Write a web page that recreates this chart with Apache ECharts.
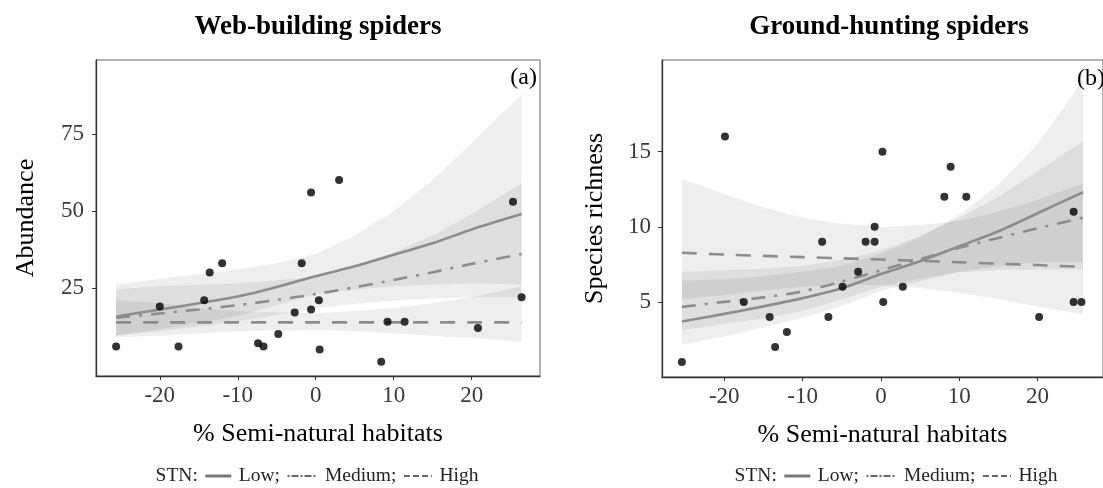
<!DOCTYPE html>
<html>
<head>
<meta charset="utf-8">
<script src="https://cdn.jsdelivr.net/npm/echarts@6/dist/echarts.min.js"></script>
<style>
html,body{margin:0;padding:0;background:#fff;}
#chart{width:1103px;height:488px;}
</style>
</head>
<body>
<div id="chart"></div>
<script>
// ---------------- DATA ----------------
const titles = ['Web-building spiders', 'Ground-hunting spiders'];
const panelLabels = ['(a)', '(b)'];
const xAxisName = '% Semi-natural habitats';
const yAxisNames = ['Abundance', 'Species richness'];
const legendPrefix = 'STN:';
const legendNames = ['Low', 'Medium', 'High'];

const xTicks = [-20, -10, 0, 10, 20];
const yTicksA = [25, 50, 75];
const yTicksB = [5, 10, 15];

// Panel (a): web-building spiders, observed abundance
const webX = [-25.6, -20.0, -17.6, -14.3, -13.6, -12.0, -7.4, -6.7, -4.8, -2.7, -1.8, -0.6, 0.4, 0.5, 8.4, 9.2, 11.4, 20.8, 25.3, 26.4, -0.6, 3.0];
const webY = [6, 19, 6, 21, 30, 33, 7, 6, 10, 17, 33, 18, 21, 5, 1, 14, 14, 12, 53, 22, 56, 60];

// Panel (a): fitted curves and confidence ribbons
const webFitX   = [-25.6, -20, -15, -10, -5, 0, 5, 10, 15, 20, 26.4];
const webLow    = [15.7, 18.0, 20.0, 22.2, 25.3, 28.8, 32.0, 35.8, 39.5, 44.0, 49.0];
const webLowLo  = [9.5, 11.6, 13.6, 15.9, 19.4, 23.0, 24.4, 25.6, 26.0, 26.5, 26.1];
const webLowHi  = [26.0, 28.0, 29.5, 31.0, 33.0, 36.0, 42.0, 50.0, 60.0, 72.0, 88.0];
const webMed    = [15.3, 16.7, 18.0, 19.4, 21.1, 23.0, 25.2, 27.6, 30.1, 32.8, 36.0];
const webMedLo  = [9.6, 10.9, 12.5, 14.2, 16.2, 18.4, 19.8, 20.9, 21.6, 22.0, 22.0];
const webMedHi  = [24.5, 25.5, 26.0, 26.5, 27.5, 28.8, 32.0, 36.5, 42.0, 49.0, 59.0];
const webHigh   = [13.8, 13.8, 13.8, 13.8, 13.8, 13.8, 13.8, 13.8, 13.8, 13.8, 13.8];
const webHighLo = [9.1, 9.5, 10.3, 10.9, 11.2, 11.3, 10.9, 10.3, 9.5, 8.7, 7.5];
const webHighHi = [21.0, 20.0, 18.5, 17.5, 17.0, 16.8, 17.5, 18.5, 20.0, 22.0, 25.5];

// Panel (b): ground-hunting spiders, observed species richness
const grdX = [-25.4, -17.5, -14.2, -13.5, -12.0, -7.5, -6.7, -4.9, -2.9, -1.95, -0.8, -0.8, 0.3, 2.8, 20.2, 24.6, 24.6, 25.6, -19.9, 0.2, 8.9, 8.1, 10.9];
const grdY = [1, 5, 4, 2, 3, 9, 4, 6, 7, 9, 9, 10, 5, 6, 4, 11, 5, 5, 16, 15, 14, 12, 12];

// Panel (b): fitted curves and confidence ribbons
const grdFitX   = [-25.4, -20, -15, -10, -5, 0, 5, 10, 15, 20, 25.8];
const grdLow    = [3.7, 4.2, 4.7, 5.25, 5.9, 6.85, 7.7, 8.7, 9.7, 10.9, 12.3];
const grdLowLo  = [2.14, 2.7, 3.3, 3.94, 4.7, 5.72, 6.38, 7.0, 7.35, 7.66, 7.64];
const grdLowHi  = [6.4, 6.5, 6.7, 7.0, 7.4, 8.2, 9.3, 10.8, 12.8, 15.5, 19.8];
const grdMed    = [4.67, 5.0, 5.3, 5.7, 6.35, 7.1, 7.85, 8.6, 9.25, 9.9, 10.6];
const grdMedLo  = [3.12, 3.52, 3.9, 4.39, 5.17, 6.0, 6.56, 6.98, 7.13, 7.15, 7.16];
const grdMedHi  = [7.0, 7.1, 7.2, 7.4, 7.8, 8.4, 9.4, 10.6, 12.0, 13.7, 15.7];
const grdHigh   = [8.27, 8.15, 8.06, 7.98, 7.9, 7.82, 7.73, 7.64, 7.54, 7.45, 7.33];
const grdHighLo = [5.18, 5.44, 5.75, 6.0, 6.12, 6.12, 5.92, 5.61, 5.17, 4.7, 4.16];
const grdHighHi = [13.2, 12.2, 11.3, 10.6, 10.2, 10.0, 10.1, 10.4, 11.0, 11.8, 12.9];

// ---------------- STYLE ----------------
const FONT = '"Liberation Serif", "Times New Roman", "DejaVu Serif", serif';
const LINE_COLOR = '#8c8c8c';
const BAND_FILL = 'rgba(0,0,0,0.065)';
const DASHES = { Low: 'solid', Medium: [14, 9, 3, 9], High: [15, 12] };

function zip(xs, ys) { return xs.map((x, i) => [x, ys[i]]); }

function band(idx, xs, lo, hi) {
  return {
    type: 'custom', xAxisIndex: idx, yAxisIndex: idx, silent: true, z: 1, clip: true,
    data: [[xs[0], lo[0]]],
    renderItem: function (params, api) {
      const pts = [];
      for (let i = 0; i < xs.length; i++) pts.push(api.coord([xs[i], hi[i]]));
      for (let i = xs.length - 1; i >= 0; i--) pts.push(api.coord([xs[i], lo[i]]));
      return { type: 'polygon', shape: { points: pts }, style: { fill: BAND_FILL } };
    }
  };
}

function fitLine(idx, name, xs, ys) {
  return {
    type: 'line', name: name, xAxisIndex: idx, yAxisIndex: idx, z: 2,
    data: zip(xs, ys), symbol: 'none', smooth: 0.3, silent: true,
    lineStyle: { color: LINE_COLOR, width: 2.6, type: DASHES[name] }
  };
}

function points(idx, xs, ys) {
  return {
    type: 'scatter', xAxisIndex: idx, yAxisIndex: idx, z: 3, silent: true,
    data: zip(xs, ys), symbolSize: 8, itemStyle: { color: '#000' }
  };
}

function xAxisCfg(idx, min, max) {
  return {
    gridIndex: idx, type: 'value', min: min, max: max,
    splitLine: { show: false },
    axisLine: { show: true, onZero: false, lineStyle: { color: '#333', width: 1.3 } },
    axisTick: { show: true, length: 4, customValues: xTicks, lineStyle: { color: '#333' } },
    axisLabel: { customValues: xTicks, fontFamily: FONT, fontSize: 23, color: '#3a3a3a', margin: 8 },
    name: xAxisName, nameLocation: 'middle', nameGap: 45,
    nameTextStyle: { fontFamily: FONT, fontSize: 26, color: '#000' }
  };
}

function yAxisCfg(idx, min, max, ticks, gap, margin) {
  return {
    gridIndex: idx, type: 'value', min: min, max: max,
    splitLine: { show: false },
    axisLine: { show: true, onZero: false, lineStyle: { color: '#333', width: 1.3 } },
    axisTick: { show: true, length: 4, customValues: ticks, lineStyle: { color: '#333' } },
    axisLabel: { customValues: ticks, fontFamily: FONT, fontSize: 23, color: '#3a3a3a', margin: margin },
    name: yAxisNames[idx], nameLocation: 'middle', nameGap: gap,
    nameTextStyle: { fontFamily: FONT, fontSize: 26, color: '#000' }
  };
}

// legend row built from real text + line glyphs
const LEG_FONT_SIZE = 19.5;
function legendRow(cx, cy) {
  const ctx = document.createElement('canvas').getContext('2d');
  ctx.font = LEG_FONT_SIZE + 'px ' + FONT;
  const items = [{ t: legendPrefix }];
  legendNames.forEach((n, i) => {
    items.push({ g: n });
    items.push({ t: n + (i < legendNames.length - 1 ? ';' : '') });
  });
  const glyphW = { Low: 26, Medium: 30, High: 28 };
  const gap = 7.5;
  let total = 0;
  items.forEach((it, i) => {
    it.w = it.t ? ctx.measureText(it.t).width : glyphW[it.g];
    total += it.w + (i ? gap : 0);
  });
  let x = cx - total / 2;
  const els = [];
  items.forEach((it, i) => {
    if (i) x += gap;
    if (it.t) {
      els.push({ type: 'text', x: x, y: cy, style: { text: it.t, font: LEG_FONT_SIZE + 'px ' + FONT, fill: '#222', textAlign: 'left', textVerticalAlign: 'middle' } });
    } else {
      const dash = it.g === 'Low' ? null : (it.g === 'Medium' ? [2, 2, 7, 2] : [6, 3]);
      els.push({ type: 'line', shape: { x1: x, y1: cy, x2: x + it.w, y2: cy },
        style: { stroke: it.g === 'Low' ? '#777' : '#666', lineWidth: it.g === 'Low' ? 3 : 2, lineDash: dash } });
    }
    x += it.w;
  });
  return els;
}

const chart = echarts.init(document.getElementById('chart'), null, { renderer: 'canvas' });

const option = {
  backgroundColor: '#fff',
  animation: false,
  grid: [
    { left: 96, top: 60, width: 444, height: 316, show: true, borderColor: '#666', borderWidth: 1, backgroundColor: 'transparent' },
    { left: 662, top: 60, width: 447, height: 317, show: true, borderColor: '#666', borderWidth: 1, backgroundColor: 'transparent' }
  ],
  xAxis: [xAxisCfg(0, -28.18, 28.76), xAxisCfg(1, -27.94, 28.35)],
  yAxis: [yAxisCfg(0, -3.6, 99, yTicksA, 57, 12), yAxisCfg(1, 0, 21.1, yTicksB, 54, 11)],
  graphic: [
    { type: 'text', x: 318, y: 27, style: { text: titles[0], font: 'bold 27px ' + FONT, fill: '#000', textAlign: 'center', textVerticalAlign: 'middle' } },
    { type: 'text', x: 889, y: 27, style: { text: titles[1], font: 'bold 27px ' + FONT, fill: '#000', textAlign: 'center', textVerticalAlign: 'middle' } },
    { type: 'text', x: 537, y: 78, style: { text: panelLabels[0], font: '24px ' + FONT, fill: '#000', textAlign: 'right', textVerticalAlign: 'middle' } },
    { type: 'text', x: 1105, y: 79, style: { text: panelLabels[1], font: '24px ' + FONT, fill: '#000', textAlign: 'right', textVerticalAlign: 'middle' } }
  ].concat(legendRow(317, 476), legendRow(896, 476)),
  series: [
    band(0, webFitX, webLowLo, webLowHi),
    band(0, webFitX, webMedLo, webMedHi),
    band(0, webFitX, webHighLo, webHighHi),
    fitLine(0, 'Low', webFitX, webLow),
    fitLine(0, 'Medium', webFitX, webMed),
    fitLine(0, 'High', webFitX, webHigh),
    points(0, webX, webY),
    band(1, grdFitX, grdLowLo, grdLowHi),
    band(1, grdFitX, grdMedLo, grdMedHi),
    band(1, grdFitX, grdHighLo, grdHighHi),
    fitLine(1, 'Low', grdFitX, grdLow),
    fitLine(1, 'Medium', grdFitX, grdMed),
    fitLine(1, 'High', grdFitX, grdHigh),
    points(1, grdX, grdY)
  ]
};
chart.setOption(option);
</script>
</body>
</html>
